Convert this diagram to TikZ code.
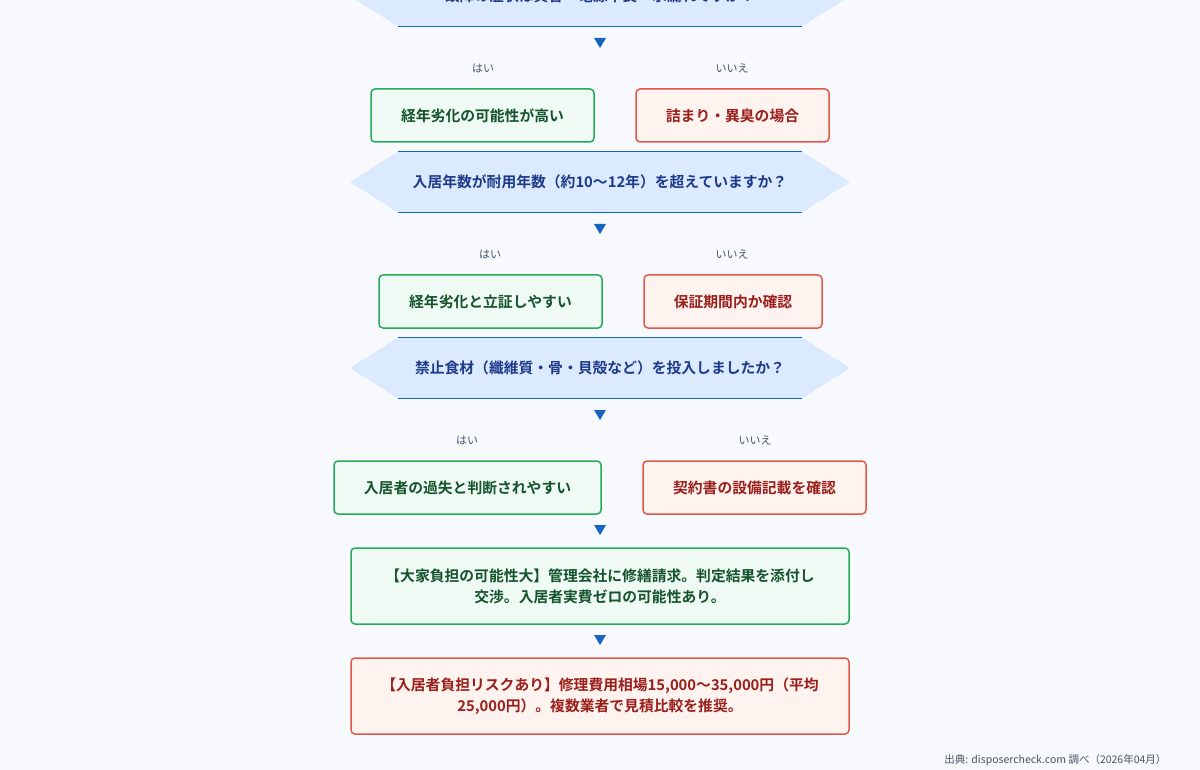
\documentclass[tikz,border=0pt]{standalone}
\usepackage{fontspec}
\setmainfont{Noto Sans CJK JP}[BoldFont={Noto Sans CJK JP Bold}]
\definecolor{bg}{HTML}{F7F9FC}
\definecolor{hexfill}{HTML}{DBEAFE}
\definecolor{hexline}{HTML}{1565C0}
\definecolor{hextext}{HTML}{1E3A8A}
\definecolor{gline}{HTML}{27A85A}
\definecolor{gfill}{HTML}{EEFAF3}
\definecolor{gtext}{HTML}{14532D}
\definecolor{rline}{HTML}{E0584A}
\definecolor{rfill}{HTML}{FFF3F0}
\definecolor{rtext}{HTML}{9A1F1A}
\definecolor{lab}{HTML}{475569}
\begin{document}
\begin{tikzpicture}[x=1pt,y=-1pt,
  gbox/.style={draw=gline,fill=gfill,line width=1.5pt,rounded corners=4pt,text=gtext,font=\bfseries\fontsize{14.8}{21}\selectfont,align=center},
  rbox/.style={draw=rline,fill=rfill,line width=1.5pt,rounded corners=4pt,text=rtext,font=\bfseries\fontsize{14.8}{21}\selectfont,align=center},
  htext/.style={text=hextext,font=\bfseries\fontsize{14.8}{18}\selectfont},
  lbl/.style={text=lab,font=\fontsize{11}{13}\selectfont}]
\useasboundingbox (0,0) rectangle (1200,770);
\fill[bg] (0,0) rectangle (1200,770);
\begin{scope}
\clip (0,0) rectangle (1200,770);
\foreach \cy in {-4,182,368}{
  \fill[hexfill] (350,\cy) -- (398,\cy-30.5) -- (802,\cy-30.5) -- (850,\cy) -- (802,\cy+30.5) -- (398,\cy+30.5) -- cycle;
  \draw[hexline,line width=1.2pt] (398,\cy-30.5) -- (802,\cy-30.5);
  \draw[hexline,line width=1.2pt] (398,\cy+30.5) -- (802,\cy+30.5);
}
\node[htext] (t1) at (600,-4) {故障の症状は異音・電源不良・水漏れですか？};
\end{scope}
\node[htext] (t2) at (600,182) {入居年数が耐用年数（約10〜12年）を超えていますか？};
\node[htext] (t3) at (600,368) {禁止食材（纖維質・骨・貝殻など）を投入しましたか？};
\foreach \y/\n in {43/a1,229/a2,415/a3,530/a4,640/a5}{
  \fill[hexline] (594,\y-5) -- (606,\y-5) -- (600,\y+5) -- cycle;
  \coordinate (\n) at (600,\y);
}
\node[lbl] (y1) at (483,68) {はい};
\node[lbl] (n1) at (732,68) {いいえ};
\node[lbl] (y2) at (490,254) {はい};
\node[lbl] (n2) at (732,254) {いいえ};
\node[lbl] (y3) at (467,440) {はい};
\node[lbl] (n3) at (755,440) {いいえ};
\node[gbox,minimum width=223pt,minimum height=53pt] (g1) at (482.5,115.5) {経年劣化の可能性が高い};
\node[rbox,minimum width=193pt,minimum height=53pt] (r1) at (732.5,115.5) {詰まり・異臭の場合};
\node[gbox,minimum width=223pt,minimum height=53pt] (g2) at (490.5,301.5) {経年劣化と立証しやすい};
\node[rbox,minimum width=178pt,minimum height=53pt] (r2) at (733,301.5) {保証期間内か確認};
\node[gbox,minimum width=267pt,minimum height=53pt] (g3) at (467.5,487.5) {入居者の過失と判断されやすい};
\node[rbox,minimum width=223pt,minimum height=53pt] (r3) at (754.5,487.5) {契約書の設備記載を確認};
\node[gbox,minimum width=498pt,minimum height=76pt] (g4) at (600,586) {【大家負担の可能性大】管理会社に修繕請求。判定結果を添付し\\交渉。入居者実費ゼロの可能性あり。};
\node[rbox,minimum width=498pt,minimum height=76pt] (r4) at (600,696) {【入居者負担リスクあり】修理費用相場15,000〜35,000円（平均\\25,000円）。複数業者で見積比較を推奨。};
\node[text=lab,font=\fontsize{10.5}{12}\selectfont,anchor=east] (src) at (1170,760) {出典: disposercheck.com 調べ（2026年04月）};
\end{tikzpicture}
\end{document}
